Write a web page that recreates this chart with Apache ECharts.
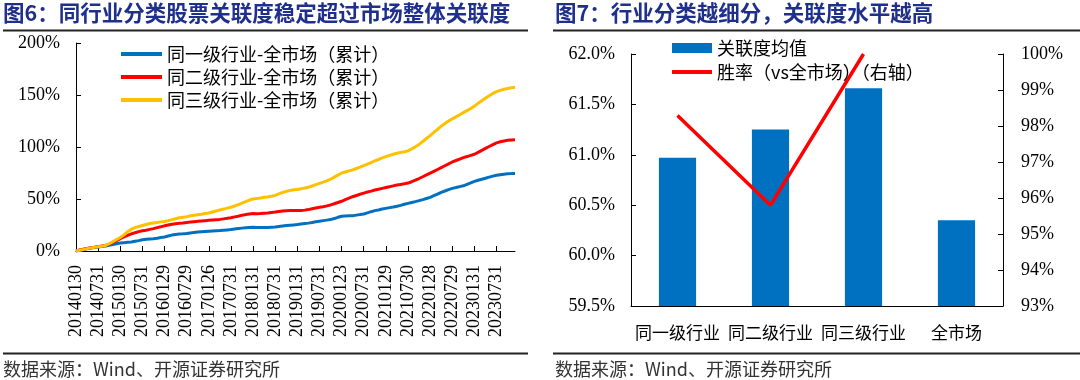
<!DOCTYPE html>
<html>
<head>
<meta charset="utf-8">
<script src="https://cdn.jsdelivr.net/npm/echarts@6/dist/echarts.min.js"></script>
<style>
html,body{margin:0;padding:0;background:#fff;}
#c{width:1080px;height:380px;}
</style>
</head>
<body>
<div id="c"></div>
<script>
// ---------- Data: Fig 6 ----------
var tickLabels = ['20140130','20140731','20150130','20150731','20160129','20160729','20170126','20170731',
  '20180131','20180731','20190131','20190731','20200123','20200731','20210129','20210730','20220128','20220729',
  '20230131','20230731'];
var seriesNames6 = ['同一级行业-全市场（累计）','同二级行业-全市场（累计）','同三级行业-全市场（累计）'];
var level1 = [0,0.8,1.5,2.2,2.8,3.3,3.8,4.3,4.8,5.5,6.2,6.9,7.6,8,8.3,8.6,9.3,10,10.8,11.2,
  11.5,11.8,12.3,12.9,13.4,14.4,15.3,15.9,16.3,16.5,16.9,17.4,17.9,18.2,18.5,18.8,19.1,19.3,19.5,19.7,
  20,20.3,20.6,21.1,21.6,22,22.3,22.6,22.9,22.7,22.5,22.5,22.7,22.9,23.1,23.6,24.1,24.5,24.8,25.1,
  25.4,25.9,26.4,26.8,27.4,28.1,28.7,29.2,29.7,30.2,31.2,32.4,33.4,33.6,33.8,34,34.5,35,35.6,36.7,
  37.8,38.8,39.5,40.3,41,41.7,42.3,43,43.9,44.9,45.8,46.7,47.5,48.4,49.4,50.5,51.6,53.2,54.8,56.4,
  57.7,59,60.2,61,61.9,62.7,64.1,65.5,66.9,68,69,70,71,72,72.9,73.4,73.9,74.2,74.4,74.5];
var level2 = [0,0.9,1.7,2.5,3.1,3.6,4.2,4.8,5.4,6.5,8,10,11.8,13.5,15,16.5,17.5,18.6,19.5,20,
  20.8,21.5,22.5,23.3,24.2,25,25.8,26.3,26.7,27,27.4,27.8,28.2,28.5,28.9,29.2,29.5,29.8,30.1,30.4,
  30.9,31.4,32,32.8,33.5,34.3,35,35.6,36,35.8,36,36.3,36.6,37,37.4,37.9,38.4,38.8,38.9,38.9,
  38.9,39,39.3,39.8,40.6,41.4,42,42.6,43.4,44.3,45.4,46.6,47.8,49.3,50.8,52.2,53.4,54.6,55.7,56.7,
  57.6,58.6,59.4,60.2,61,61.8,62.6,63.4,64,64.6,65.3,66.6,68.1,69.7,71.4,73.1,74.8,76.6,78.4,80.2,
  82,83.8,85.6,87,88.4,89.8,90.8,91.9,93,94.9,96.8,98.7,100.5,102.3,104,105,105.8,106.4,106.8,107];
var level3 = [0,0.8,1.5,2.3,3,3.5,4,4.6,5.3,7,9,11,13,15.5,18.5,21,22.5,23.5,24.5,25.5,
  26.5,27,27.5,28,28.3,29.2,30.2,31,32,32.5,33,33.8,34.3,34.8,35.3,36,36.5,37.5,38.5,39.5,
  40.3,41.2,42,43.3,44.6,46,47.5,49,50,50.5,51,51.6,52,52.6,53.5,55,56.3,57.3,58.2,58.8,
  59.2,59.8,60.5,61.3,62.5,63.8,65,66.2,67.5,69,71,73,75,76,77,78,79.3,80.6,82,83.5,
  85,86.6,88,89.5,90.8,92,93,94,94.8,95.5,96.3,98.2,100.3,102.5,105.3,108.2,111,114,117,120,
  122.5,125,127,129,131,133,135,137,139.3,142,144.5,147,149.3,151.5,153.3,154.5,155.5,156.3,157,157.5];

// ---------- Data: Fig 7 ----------
var categories7 = ['同一级行业','同二级行业','同三级行业','全市场'];
var corrMean = [60.97, 61.25, 61.66, 60.35];
var winRate = [98.29, 95.80, 100.0, null];
var seriesNames7 = ['关联度均值','胜率（vs全市场）（右轴）'];

// category axis for fig 6 (monthly, labelled every 6 months)
var months = [];
for (var i = 0; i < level1.length; i++) {
  if (i % 6 === 0) { months.push(tickLabels[i / 6]); }
  else {
    var y = 2014 + Math.floor(i / 12), m = (i % 12) + 1;
    months.push(String(y * 100 + m));
  }
}

var serif = 'Liberation Serif';
var cjk = 'Noto Sans CJK SC';
var titleColor = '#1f2f8c';
var axisLineStyle = {color: '#000', width: 1};
var legText = {fontFamily: cjk, fontSize: 18, color: '#000', lineHeight: 20};
function serifLabel(extra) {
  var o = {fontFamily: serif, fontSize: 18, color: '#000', fontWeight: 'normal', fontStyle: 'normal'};
  for (var k in extra) o[k] = extra[k];
  return o;
}

var chart = echarts.init(document.getElementById('c'), null, {renderer: 'canvas'});
chart.setOption({
  animation: false,
  backgroundColor: '#fff',
  textStyle: {fontFamily: serif},
  grid: [
    {left: 76, right: 565, top: 43, bottom: 129, containLabel: false},
    {left: 631, right: 77, top: 54, bottom: 74, containLabel: false}
  ],
  legend: [
    {
      data: seriesNames6.map(function (n) { return {name: n, icon: 'rect'}; }),
      orient: 'vertical', left: 116, top: 39, itemWidth: 41, itemHeight: 4, itemGap: 3,
      textStyle: legText
    },
    {
      data: [{name: seriesNames7[0], icon: 'rect'}],
      left: 667, top: 33, itemWidth: 40, itemHeight: 10,
      textStyle: legText
    },
    {
      data: [{name: seriesNames7[1], icon: 'rect'}],
      left: 667, top: 57, itemWidth: 40, itemHeight: 4,
      textStyle: legText
    }
  ],
  xAxis: [
    {
      type: 'category', gridIndex: 0, data: months, boundaryGap: false,
      axisLine: {lineStyle: axisLineStyle},
      axisTick: {inside: true, length: 5, interval: 5, lineStyle: axisLineStyle},
      axisLabel: serifLabel({interval: 5, rotate: 90, margin: 14})
    },
    {
      type: 'category', gridIndex: 1, data: categories7,
      axisLine: {lineStyle: axisLineStyle},
      axisTick: {inside: true, length: 5, lineStyle: axisLineStyle},
      axisLabel: {interval: 0, margin: 18, fontFamily: cjk, fontSize: 17, color: '#000'}
    }
  ],
  yAxis: [
    {
      type: 'value', gridIndex: 0, min: 0, max: 200, interval: 50,
      axisLine: {show: true, lineStyle: axisLineStyle},
      axisTick: {show: true, inside: true, length: 5, lineStyle: axisLineStyle},
      splitLine: {show: false},
      axisLabel: serifLabel({formatter: '{value}%', margin: 16})
    },
    {
      type: 'value', gridIndex: 1, min: 59.5, max: 62, interval: 0.5,
      axisLine: {show: true, lineStyle: axisLineStyle},
      axisTick: {show: true, inside: true, length: 5, lineStyle: axisLineStyle},
      splitLine: {show: false},
      axisLabel: serifLabel({formatter: function (v) { return v.toFixed(1) + '%'; }, margin: 16})
    },
    {
      type: 'value', gridIndex: 1, position: 'right', min: 93, max: 100, interval: 1,
      axisLine: {show: true, lineStyle: axisLineStyle},
      axisTick: {show: true, inside: true, length: 5, lineStyle: axisLineStyle},
      splitLine: {show: false},
      axisLabel: serifLabel({formatter: '{value}%', margin: 18})
    }
  ],
  series: [
    {name: seriesNames6[0], type: 'line', xAxisIndex: 0, yAxisIndex: 0, data: level1,
      showSymbol: false, symbol: 'none', lineStyle: {width: 3, color: '#0070C0'}, itemStyle: {color: '#0070C0'}},
    {name: seriesNames6[1], type: 'line', xAxisIndex: 0, yAxisIndex: 0, data: level2,
      showSymbol: false, symbol: 'none', lineStyle: {width: 3, color: '#FF0000'}, itemStyle: {color: '#FF0000'}},
    {name: seriesNames6[2], type: 'line', xAxisIndex: 0, yAxisIndex: 0, data: level3,
      showSymbol: false, symbol: 'none', lineStyle: {width: 3, color: '#FFC000'}, itemStyle: {color: '#FFC000'}},
    {name: seriesNames7[0], type: 'bar', xAxisIndex: 1, yAxisIndex: 1, data: corrMean,
      barWidth: '40%', itemStyle: {color: '#0070C0'}},
    {name: seriesNames7[1], type: 'line', xAxisIndex: 1, yAxisIndex: 2, data: winRate,
      showSymbol: false, symbol: 'none', clip: false,
      lineStyle: {width: 3.5, color: '#FF0000'}, itemStyle: {color: '#FF0000'}}
  ],
  graphic: [
    {type: 'text', left: 3, top: 2, style: {text: '图6：同行业分类股票关联度稳定超过市场整体关联度',
      fontFamily: cjk, fontSize: 21.5, fontWeight: 'bold', fill: titleColor}},
    {type: 'line', shape: {x1: 3, y1: 30.5, x2: 528, y2: 30.5}, style: {stroke: '#222', lineWidth: 2}},
    {type: 'line', shape: {x1: 3, y1: 353.5, x2: 528, y2: 353.5}, style: {stroke: '#222', lineWidth: 2}},
    {type: 'text', left: 3, top: 360, style: {text: '数据来源：Wind、开源证券研究所',
      fontFamily: cjk, fontSize: 18, fill: '#333'}},
    {type: 'text', left: 555, top: 2, style: {text: '图7：行业分类越细分，关联度水平越高',
      fontFamily: cjk, fontSize: 21.5, fontWeight: 'bold', fill: titleColor}},
    {type: 'line', shape: {x1: 553, y1: 30.5, x2: 1080, y2: 30.5}, style: {stroke: '#222', lineWidth: 2}},
    {type: 'line', shape: {x1: 553, y1: 353.5, x2: 1080, y2: 353.5}, style: {stroke: '#222', lineWidth: 2}},
    {type: 'text', left: 555, top: 360, style: {text: '数据来源：Wind、开源证券研究所',
      fontFamily: cjk, fontSize: 18, fill: '#333'}}
  ]
});
</script>
</body>
</html>
